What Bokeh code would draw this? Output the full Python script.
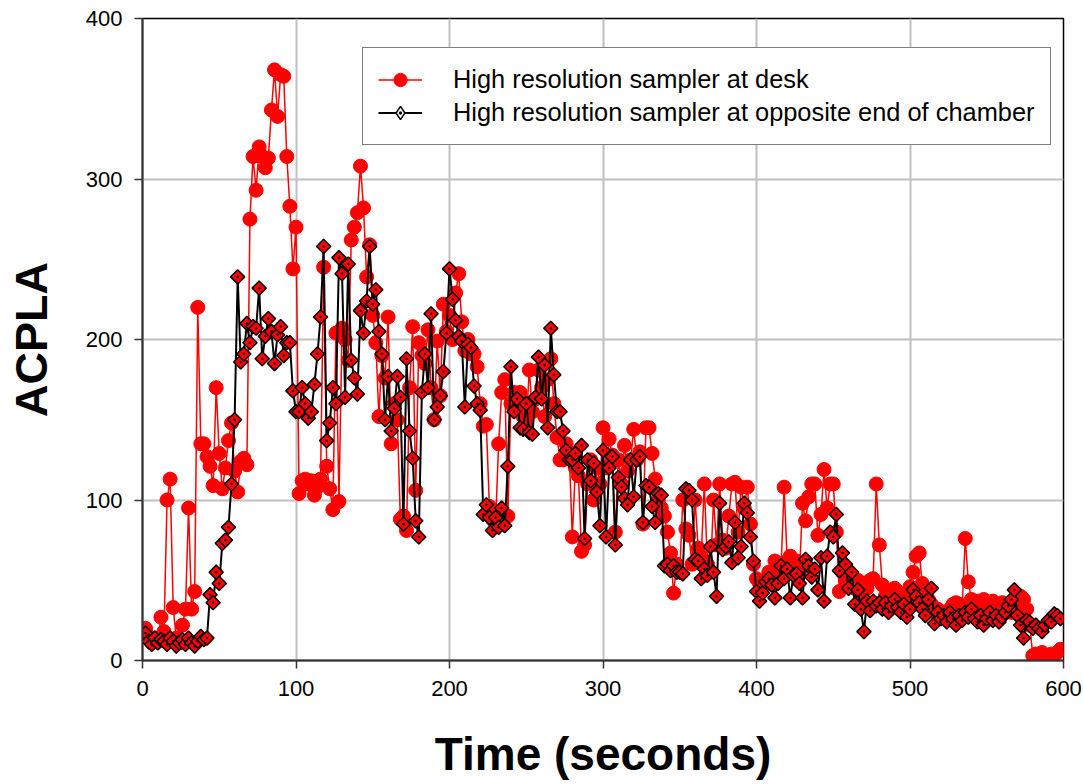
import numpy as np
from bokeh.plotting import figure
from bokeh.models import (ColumnDataSource, Legend, LegendItem, FixedTicker, Range1d)
from bokeh.embed import file_html
from bokeh.resources import INLINE

# time axis (seconds), one sample every 2 s
time_s = list(range(2, 600, 2))

# ACPLA, high resolution sampler at desk
desk = [
    20, 15, 11, 14, 12, 27, 18, 100, 113, 33,
    14, 11, 22, 32, 95, 32, 43, 220, 135, 135,
    127, 121, 109, 170, 129, 107, 120, 137, 148, 118,
    105, 124, 126, 122, 275, 314, 293, 320, 314, 307,
    313, 343, 368, 339, 365, 364, 314, 283, 244, 270,
    104, 112, 113, 110, 112, 103, 108, 113, 245, 121,
    107, 94, 204, 99, 207, 200, 187, 262, 270, 279,
    308, 282, 239, 259, 215, 198, 152, 190, 176, 214,
    135, 160, 150, 88, 90, 81, 170, 208, 106, 198,
    190, 185, 206, 170, 150, 199, 165, 222, 205, 215,
    200, 229, 241, 211, 193, 200, 191, 191, 183, 160,
    146, 147, 96, 88, 85, 135, 167, 175, 90, 160,
    167, 158, 167, 152, 148, 181, 155, 163, 181, 170,
    152, 175, 188, 160, 139, 125, 125, 135, 130, 77,
    120, 115, 68, 72, 110, 125, 100, 120, 110, 145,
    120, 138, 128, 80, 125, 110, 134, 118, 125, 144,
    125, 130, 85, 145, 145, 129, 113, 100, 95, 90,
    80, 67, 42, 60, 55, 100, 82, 78, 60, 100,
    70, 65, 110, 60, 55, 100, 72, 110, 75, 70,
    90, 110, 111, 80, 108, 95, 108, 85, 60, 51,
    48, 45, 50, 55, 52, 62, 60, 58, 108, 62,
    65, 60, 62, 55, 98, 87, 102, 110, 110, 78,
    91, 119, 95, 110, 110, 80, 43, 55, 50, 52,
    48, 45, 50, 42, 48, 45, 50, 51, 110, 72,
    47, 40, 38, 35, 45, 43, 40, 38, 42, 46,
    55, 65, 67, 48, 40, 38, 35, 30, 32, 28,
    30, 28, 32, 35, 36, 35, 34, 76, 49, 38,
    35, 37, 36, 38, 34, 36, 37, 35, 33, 36,
    34, 32, 30, 35, 38, 40, 38, 32, 22, 3,
    4, 3, 5, 2, 3, 4, 3, 5, 7,
]

# ACPLA, high resolution sampler at opposite end of chamber
opposite = [
    17, 12, 10, 14, 11, 13, 12, 10, 14, 12,
    9, 11, 13, 10, 14, 11, 9, 12, 15, 13,
    14, 41, 36, 55, 48, 73, 75, 83, 110, 150,
    239, 186, 191, 210, 198, 208, 207, 232, 188, 202,
    213, 205, 185, 203, 208, 190, 198, 198, 168, 155,
    155, 170, 160, 151, 155, 172, 191, 214, 258, 137,
    148, 170, 160, 251, 241, 164, 247, 187, 176, 166,
    218, 204, 224, 258, 222, 231, 205, 191, 150, 177,
    143, 157, 177, 164, 85, 188, 143, 126, 87, 77,
    167, 191, 170, 216, 150, 158, 165, 180, 204, 244,
    225, 212, 202, 199, 158, 197, 195, 171, 160, 156,
    91, 97, 89, 81, 89, 83, 95, 84, 121, 183,
    155, 163, 145, 144, 160, 142, 141, 164, 189, 163,
    184, 145, 207, 178, 155, 155, 143, 131, 125, 125,
    129, 120, 134, 76, 125, 112, 123, 105, 84, 131,
    77, 120, 127, 72, 114, 108, 101, 97, 125, 102,
    125, 127, 86, 109, 108, 96, 86, 104, 103, 59,
    60, 56, 59, 55, 55, 54, 107, 106, 100, 63,
    62, 51, 57, 53, 71, 55, 40, 98, 69, 71,
    74, 61, 86, 64, 71, 98, 92, 77, 62, 43,
    37, 42, 49, 51, 47, 39, 48, 59, 51, 57,
    39, 53, 54, 48, 39, 63, 59, 52, 57, 44,
    64, 37, 65, 80, 77, 91, 56, 67, 60, 45,
    55, 35, 44, 32, 18, 37, 31, 37, 34, 36,
    32, 36, 30, 34, 38, 33, 30, 35, 27, 32,
    44, 40, 36, 32, 28, 38, 45, 23, 30, 26,
    28, 24, 30, 26, 22, 28, 25, 30, 27, 32,
    26, 24, 28, 22, 26, 30, 25, 28, 24, 27,
    30, 34, 38, 44, 28, 22, 14, 25, 24, 20,
    22, 20, 18, 22, 25, 24, 29, 28, 26,
]

x_ticks = [0, 100, 200, 300, 400, 500, 600]
y_ticks = [0, 100, 200, 300, 400]
series_names = ["High resolution sampler at desk",
                "High resolution sampler at opposite end of chamber"]

FONT = "Liberation Sans"

p = figure(width=1083, height=784,
           x_range=Range1d(0, 600), y_range=Range1d(0, 400),
           output_backend="svg", toolbar_location=None,
           min_border_left=142, min_border_right=20,
           min_border_top=18, min_border_bottom=124,
           background_fill_color="white", border_fill_color="white")

p.outline_line_color = "black"
p.outline_line_width = 1.5

for ax in (p.xaxis[0], p.yaxis[0]):
    ax.axis_line_color = "#333333"
    ax.axis_line_width = 2
    ax.major_tick_line_color = "#333333"
    ax.major_tick_line_width = 1.5
    ax.major_tick_out = 8
    ax.major_tick_in = 0
    ax.minor_tick_line_color = None
    ax.major_label_text_font = FONT
    ax.major_label_text_font_size = "22px"
    ax.major_label_text_color = "black"
    ax.major_label_standoff = 12
    ax.axis_label_text_font = FONT
    ax.axis_label_text_font_style = "bold"
    ax.axis_label_text_color = "black"

p.xaxis.ticker = FixedTicker(ticks=x_ticks)
p.yaxis.ticker = FixedTicker(ticks=y_ticks)
p.xaxis.axis_label = "Time (seconds)"
p.yaxis.axis_label = "ACPLA"
p.xaxis.axis_label_text_font_size = "46px"
p.yaxis.axis_label_text_font_size = "45px"
p.xaxis.axis_label_standoff = 29
p.yaxis.axis_label_standoff = 26

p.xgrid.grid_line_color = "#c0c0c0"
p.ygrid.grid_line_color = "#c0c0c0"
p.xgrid.grid_line_width = 2
p.ygrid.grid_line_width = 2

src = ColumnDataSource(data=dict(t=time_s, desk=desk, opp=opposite))

# legend key for the second series (hollow diamond as in the original key);
# drawn first on the first sample so it is hidden beneath the real marks
key_src = ColumnDataSource(data=dict(t=time_s[:1], v=opposite[:1]))
lg_line = p.line("t", "v", source=key_src, line_color="black", line_width=2)
lg_pts = p.scatter("t", "v", source=key_src, marker="diamond_dot",
                   size=14, fill_color="white", line_color="black", line_width=1.5)

r_line = p.line("t", "desk", source=src, line_color="#ff0000", line_width=1.5)
r_pts = p.scatter("t", "desk", source=src, marker="circle", size=14,
                  fill_color="#ff0000", line_color="#ff0000")

b_line = p.line("t", "opp", source=src, line_color="black", line_width=2)
b_pts = p.scatter("t", "opp", source=src, marker="square_dot", angle=np.pi / 4,
                  size=10, fill_color="#ff0000", line_color="black", line_width=1.5)

legend = Legend(items=[
    LegendItem(label=series_names[0], renderers=[r_line, r_pts]),
    LegendItem(label=series_names[1], renderers=[lg_line, lg_pts]),
], location=(220, 515))
legend.label_text_font = FONT
legend.label_text_font_size = "25.4px"
legend.label_text_color = "black"
legend.label_height = 33
legend.glyph_height = 33
legend.glyph_width = 44
legend.label_standoff = 31
legend.padding = 15
legend.spacing = 0
legend.margin = 0
legend.border_line_color = "black"
legend.border_line_width = 1
legend.background_fill_color = "white"
legend.background_fill_alpha = 1
p.add_layout(legend)

open("out.html", "w").write(file_html(p, INLINE))
